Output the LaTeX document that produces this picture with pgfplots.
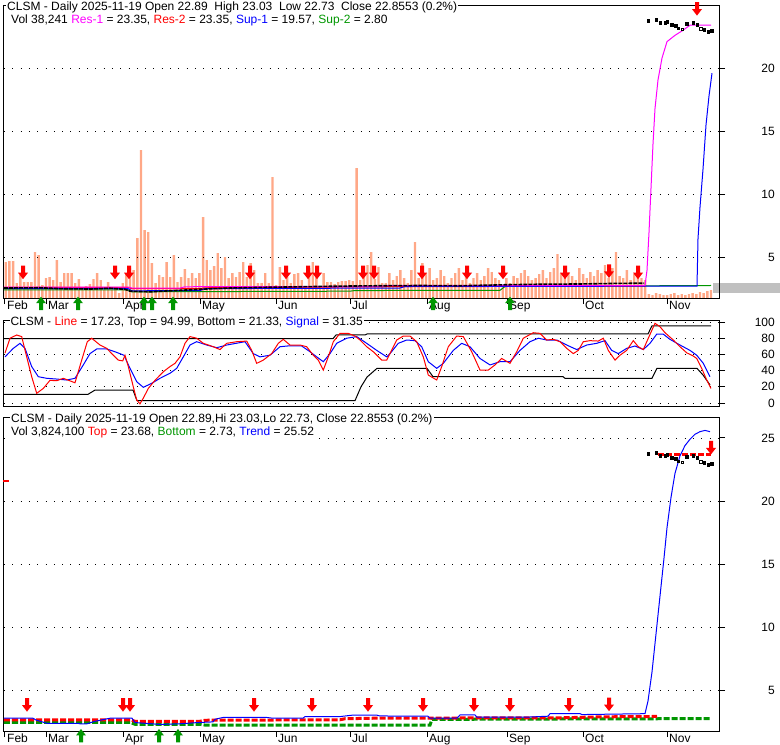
\documentclass[border=0pt]{standalone}
\usepackage{pgfplots}
\pgfplotsset{compat=1.18}
\usepackage{fontspec}
\setmainfont{Liberation Sans}
\definecolor{volc}{RGB}{255,168,135}
\definecolor{dgreen}{RGB}{0,150,0}
\definecolor{mag}{RGB}{255,0,255}
\definecolor{gband}{RGB}{192,192,192}
\newcommand\fz{\fontsize{12}{14}\selectfont}
\pgfdeclareplotmark{dnarrow}{%
 \pgfpathmoveto{\pgfpoint{0pt}{0pt}}%
 \pgfpathlineto{\pgfpoint{5pt}{6.5pt}}%
 \pgfpathlineto{\pgfpoint{2pt}{6.5pt}}%
 \pgfpathlineto{\pgfpoint{2pt}{13.5pt}}%
 \pgfpathlineto{\pgfpoint{-2pt}{13.5pt}}%
 \pgfpathlineto{\pgfpoint{-2pt}{6.5pt}}%
 \pgfpathlineto{\pgfpoint{-5pt}{6.5pt}}%
 \pgfpathclose\pgfusepathqfill}
\pgfdeclareplotmark{uparrow}{%
 \pgfpathmoveto{\pgfpoint{0pt}{0pt}}%
 \pgfpathlineto{\pgfpoint{5pt}{-6.5pt}}%
 \pgfpathlineto{\pgfpoint{2pt}{-6.5pt}}%
 \pgfpathlineto{\pgfpoint{2pt}{-13.5pt}}%
 \pgfpathlineto{\pgfpoint{-2pt}{-13.5pt}}%
 \pgfpathlineto{\pgfpoint{-2pt}{-6.5pt}}%
 \pgfpathlineto{\pgfpoint{-5pt}{-6.5pt}}%
 \pgfpathclose\pgfusepathqfill}
\pgfplotsset{
  panel/.style={scale only axis, width=715pt, xmin=4, xmax=719,
    axis line style={line width=1pt}, clip=false,
    ytick pos=right, yticklabel pos=right, tick align=outside,
    major tick length=6pt, tick style={line width=1pt, black},
    ymajorgrids, grid style={black, line width=0.9pt, dash pattern=on 0.9pt off 7.4pt},
    /pgf/number format/assume math mode=true,
    ticklabel style={font=\fz},
    yticklabel style={anchor=east, inner sep=0pt, xshift=50pt},
    xtick pos=left,
    xticklabel style={anchor=north west, inner sep=0pt, xshift=2pt, yshift=3pt},
  },
  months/.style={xtick={5,46,123,200,276,350,427,507,583,667},
    xticklabels={Feb,Mar,Apr,May,Jun,Jul,Aug,Sep,Oct,Nov}},
}
\begin{document}
\begin{tikzpicture}[x=1pt,y=1pt]
\useasboundingbox (0,0) rectangle (780,-745);
\fill[gband] (713,-283) rectangle (780,-293);
% ---------- volume (top panel) ----------
\begin{axis}[scale only axis, width=715pt, height=293pt, at={(4pt,-298pt)}, anchor=south west,
  xmin=-0.49, xmax=195.2, ymin=0, ymax=293, hide axis, ybar, bar width=2.4pt]
\addplot[fill=volc, draw=none] coordinates {
(0,36)(1,37)(2,37)(3,15)(4,23)(5,16)(6,16)(7,16)(8,46)(9,43)(10,13)(11,20)(12,21)(13,18)(14,38)(15,16)(16,25)(17,25)(18,25)(19,15)
(20,19)(21,11)(22,12)(23,14)(24,19)(25,25)(26,18)(27,8)(28,16)(29,8)(30,11)(31,5)(32,15)(33,25)(34,30)(35,28)(36,60)(37,148)(38,68)(39,66)
(40,35)(41,15)(42,23)(43,21)(44,36)(45,21)(46,43)(47,16)(48,21)(49,29)(50,20)(51,25)(52,20)(53,25)(54,81)(55,38)(56,28)(57,32)(58,45)(59,30)
(60,41)(61,20)(62,25)(63,21)(64,26)(65,36)(66,21)(67,35)(68,28)(69,15)(70,15)(71,25)(72,15)(73,121)(74,13)(75,31)(76,18)(77,21)(78,15)(79,24)
(80,25)(81,18)(82,12)(83,30)(84,36)(85,24)(86,11)(87,25)(88,16)(89,16)(90,14)(91,16)(92,17)(93,17)(94,18)(95,17)(96,130)(97,18)(98,25)(99,33)
(100,46)(101,19)(102,31)(103,15)(104,15)(105,25)(106,18)(107,22)(108,28)(109,20)(110,15)(111,28)(112,56)(113,20)(114,35)(115,25)(116,30)(117,18)(118,20)(119,28)
(120,22)(121,15)(122,20)(123,25)(124,30)(125,18)(126,22)(127,15)(128,20)(129,25)(130,18)(131,22)(132,30)(133,26)(134,20)(135,18)(136,12)(137,20)(138,15)(139,22)
(140,20)(141,25)(142,28)(143,22)(144,18)(145,20)(146,24)(147,28)(148,20)(149,26)(150,30)(151,44)(152,25)(153,20)(154,26)(155,22)(156,18)(157,30)(158,24)(159,20)
(160,26)(161,22)(162,28)(163,25)(164,33)(165,20)(166,30)(167,46)(168,22)(169,20)(170,28)(171,18)(172,24)(173,26)(174,20)(175,18)(176,4)(177,3)(178,5)(179,4)
(180,3)(181,3)(182,4)(183,5)(184,3)(185,4)(186,3)(187,4)(188,5)(189,4)(190,6)(191,5)(192,7)(193,8)};
\end{axis}
% ---------- price (top panel) ----------
\begin{axis}[panel, months, height=293pt, at={(4pt,-298pt)}, anchor=south west,
  ymin=1.81, ymax=25.0, ytick={5,10,15,20}]
\addplot[dgreen, line width=1pt] coordinates {(4,2.45)(128,2.45)(132,2.3)(350,2.35)(355,2.4)(500,2.42)(505,2.72)(711,2.8)};
\addplot[red, line width=1pt] coordinates {(4,2.65)(128,2.65)(132,2.55)(200,2.55)(205,2.62)(380,2.7)(645,2.75)};
\addplot[blue, line width=1pt] coordinates {(4,2.55)(128,2.55)(132,2.38)(200,2.4)(205,2.55)(400,2.6)(405,2.72)(697,2.75)(698,6.5)(700,9)(703,12)(706,15.5)(709,17.8)(712,19.6)};
\addplot[mag, line width=1pt] coordinates {(4,2.68)(128,2.68)(132,2.6)(180,2.6)(185,2.7)(380,2.72)(385,2.78)(645,2.8)(647,4)(649,7)(651,10.5)(653,14)(655,16.8)(658,19.07)(662,20.8)(667,22.1)(675,22.6)(683,23.0)(690,23.4)(711,23.4)};
\addplot[black, line width=1.6pt, dash pattern=on 4pt off 1pt] coordinates {(4,2.6)(40,2.62)(60,2.55)(90,2.52)(110,2.58)(125,2.5)(130,2.35)(150,2.3)(175,2.4)(200,2.5)(230,2.6)(260,2.65)(300,2.7)(340,2.75)(380,2.78)(420,2.8)(460,2.78)(500,2.85)(540,2.9)(580,2.92)(620,2.97)(644,2.98)};
\addplot[black, only marks, mark=square*, mark size=1.3pt] coordinates {(648.3,23.77)(656,23.82)(660,23.61)(665,23.61)(667,23.69)(671.7,23.43)(675.7,23.35)(678.3,23.17)(686.7,23.51)(693.3,23.61)(697.3,23.43)(704.3,23.03)(708.3,22.9)(711.7,22.95)};
\addplot[black, only marks, mark=square, mark size=1.3pt] coordinates {(682.3,23.09)(700.7,23.11)};
\addplot[red, only marks, mark=dnarrow] coordinates {(23,3.3)(115,3.3)(129,3.3)(250,3.3)(286,3.3)(308,3.3)(317,3.3)(363,3.3)(374,3.3)(422,3.3)(467,3.3)(503,3.3)(565,3.3)(609,3.4)(638,3.3)(697,24.16)};
\addplot[dgreen, only marks, mark=uparrow] coordinates {(41,1.91)(78,1.91)(144,1.91)(152,1.91)(173,1.91)(433,1.91)(510,1.91)};
\end{axis}
% ---------- middle panel ----------
\begin{axis}[panel, height=86pt, at={(4pt,-406pt)}, anchor=south west,
  ymin=-3.7, ymax=102.5, ytick={0,20,40,60,80,100}, xtick=\empty]
\addplot[black, line width=1pt] coordinates {(4,79.5)(333,79.5)(336,84)(365,84)(367,85.3)(648,85.3)(652,95.4)(711,95.4)};
\addplot[black, line width=1pt] coordinates {(4,10.7)(88,10.7)(95,16)(133,16)(137,2.9)(355,2.9)(361,20)(367,32)(377,42.8)(427,42.8)(433,32.5)(563,32.5)(565,30.5)(652,30.5)(657,42.8)(697,42.8)(703,34.6)(710,22.3)};
\addplot[blue, line width=1pt] coordinates {(5,57)(13.3,67.5)(20,73.7)(25,67.5)(31.7,45)(38.3,32.5)(46.7,30.5)(56.7,29.6)(66.7,28.4)(75,30.5)(83.3,47)(90,61)(96.7,66.7)(106.7,66.7)(115,63.3)(124,59)(130,42.8)(136.7,26.3)(143.3,19.4)(151.7,24.3)(160,30.5)(170,36.7)(176.7,42.8)(183.3,57)(190,71.6)(196.7,75.7)(206.7,71.6)(216.7,68.3)(226.7,71.6)(245,75.7)(253.3,61)(260,57)(270,59)(280,69.5)(290,70.7)(301.7,70.4)(310,63.3)(316.7,57)(323.3,51)(330,61)(336.7,73.7)(346.7,80)(356.7,82)(366.7,73.7)(376.7,65)(386.7,57)(390,61)(398.3,73.7)(406.7,77.8)(415,77)(421.7,69.5)(428.3,51)(436.7,42.8)(443.3,49)(453.3,65)(461.7,73.7)(470,69.5)(480,55)(490,47)(500,51)(510,51)(520,65)(530,75.7)(538.3,80)(546.7,77.8)(556.7,77.8)(566.7,71.6)(576.7,66)(586.7,71.6)(596.7,73.7)(605,77)(611.7,65)(618.3,61)(626.7,67.5)(635,70.4)(643.3,66)(650,73.7)(656.7,85)(663.3,85)(670,78.6)(680,71.6)(690,65)(696.7,59)(703.3,49)(710,32.5)};
\addplot[red, line width=1pt] coordinates {(5,61.6)(10,80)(16.7,84)(21.7,82)(26.7,57)(31.7,32.5)(36.7,12)(43.3,18)(50,28)(56.7,27.5)(63.3,30.5)(75,25)(81.7,53)(87.3,75.7)(91.7,80)(100,71.6)(106.7,67.5)(113.3,59)(118.3,53)(122.7,52)(125,59)(128.3,45)(133.3,20)(136.7,3.7)(140,-1)(143.3,6)(148.3,18)(155,28)(163.3,38.6)(170,45)(175,49)(180,57)(185,73.7)(190,82)(196.7,80)(203.3,73.7)(213.3,69.5)(220,66)(226.7,73.7)(236.7,75.7)(246.7,76.5)(251.7,65)(256.7,49)(263.3,53)(271.7,61)(278.3,73.7)(283.3,78.6)(290,71.6)(300,71.6)(306.7,69.5)(313.3,59)(318.3,53)(323.3,40.7)(328.3,57)(333.3,75.7)(340,86)(348.3,86)(355,82.7)(360,77.8)(366.7,69.5)(373.3,63.3)(381.7,53)(386.7,53)(390,61)(396.7,77.8)(403.3,82.7)(410,82.7)(416.7,75.7)(423.3,57)(428.3,34.5)(436.7,28.4)(441.7,45)(448.3,69.5)(456.7,82.7)(463.3,82)(471.7,63.3)(480,40.7)(488.3,40.7)(495,47)(501.7,55)(510,49)(516.7,63.3)(523.3,80)(533.3,86.8)(540,86)(546.7,77.8)(553.3,78.6)(560,75.7)(566.7,67.5)(573.3,61)(578.3,65)(583.3,75.7)(590,77)(598.3,76.5)(603.3,80)(608.3,65)(615,53)(620,59)(626.7,65)(633.3,77)(638.3,69.5)(643.3,66)(648.3,80)(655,98.4)(660,94.2)(665,86.8)(673.3,77.8)(680,69.5)(686.7,62)(693.3,58)(696.7,55)(701.7,42.8)(706.7,28.4)(711,18)};
\end{axis}
% ---------- bottom panel ----------
\begin{axis}[panel, months, height=314pt, at={(4pt,-731pt)}, anchor=south west,
  ymin=1.83, ymax=26.66, ytick={5,10,15,20,25}]
\addplot[dgreen, line width=3pt, dash pattern=on 6pt off 2pt] coordinates {(4,2.52)(130,2.52)(135,2.36)(200,2.36)(205,2.3)(430,2.3)(432,2.75)(560,2.78)(711,2.81)};
\addplot[red, line width=3pt, dash pattern=on 6pt off 2pt] coordinates {(4,2.72)(130,2.72)(135,2.6)(200,2.6)(205,2.68)(340,2.72)(345,2.8)(380,2.85)(560,2.87)(600,2.95)(657,2.98)};
\addplot[red, line width=3pt, dash pattern=on 6pt off 2pt] coordinates {(658,23.68)(711,23.68)};
\addplot[blue, line width=1pt] coordinates {(4,2.84)(33,2.84)(36,2.7)(47,2.44)(78,2.44)(80,2.4)(87,2.4)(95,2.6)(110,2.84)(132,2.84)(135,2.5)(160,2.35)(180,2.4)(198,2.5)(213,2.55)(215,2.76)(223,2.9)(267,2.9)(273,2.84)(303,2.84)(305,2.97)(340,2.97)(352,3.08)(377,3.08)(380,3.02)(428,3.0)(430,2.84)(457,2.84)(460,3.1)(475,3.1)(477,2.92)(525,2.92)(548,3.0)(550,3.2)(580,3.2)(582,3.13)(645,3.2)(648,4.2)(652,6.5)(656,9.5)(660,12.5)(664,15.5)(667,17.9)(671,20.3)(675,22.2)(680,23.6)(685,24.4)(690,24.9)(695,25.3)(700,25.5)(705,25.6)(710,25.5)};
\addplot[black, only marks, mark=square*, mark size=1.3pt] coordinates {(648.3,23.77)(656,23.82)(660,23.61)(665,23.61)(667,23.69)(671.7,23.43)(675.7,23.35)(678.3,23.17)(686.7,23.51)(693.3,23.61)(697.3,23.43)(704.3,23.03)(708.3,22.9)(711.7,22.95)};
\addplot[black, only marks, mark=square, mark size=1.3pt] coordinates {(682.3,23.09)(700.7,23.11)};
\addplot[red, only marks, mark=dnarrow] coordinates {(27,3.36)(123,3.36)(130,3.36)(254,3.36)(312,3.36)(368,3.36)(423,3.36)(474,3.36)(510,3.36)(569,3.36)(609,3.4)(711,23.7)};
\addplot[dgreen, only marks, mark=uparrow] coordinates {(81,1.99)(159,1.99)(178,1.99)};
\end{axis}
\draw[red, line width=2pt] (3,-481) -- (9,-481);
% ---------- titles ----------
\node[font=\fz, anchor=base west, fill=white, inner sep=1pt] at (6,-10) {CLSM - Daily 2025-11-19 Open 22.89\ \ High 23.03\ \ Low 22.73\ \ Close 22.8553 (0.2\%)};
\node[font=\fz, anchor=base west, inner sep=1pt] at (10,-23.3) {Vol 38,241 \textcolor{mag}{Res-1} = 23.35, \textcolor{red}{Res-2} = 23.35, \textcolor{blue}{Sup-1} = 19.57, \textcolor{dgreen}{Sup-2} = 2.80};
\node[font=\fz, anchor=base west, fill=white, inner sep=1pt] at (9.3,-325) {CLSM - \textcolor{red}{Line} = 17.23, Top = 94.99, Bottom = 21.33, \textcolor{blue}{Signal} = 31.35};
\node[font=\fz, anchor=base west, fill=white, inner sep=1pt] at (10,-422) {CLSM - Daily 2025-11-19 Open 22.89,Hi 23.03,Lo 22.73, Close 22.8553 (0.2\%)};
\node[font=\fz, anchor=base west, fill=white, inner sep=1pt] at (10,-435.7) {Vol 3,824,100 \textcolor{red}{Top} = 23.68, \textcolor{dgreen}{Bottom} = 2.73, \textcolor{blue}{Trend} = 25.52};
\end{tikzpicture}
\end{document}
